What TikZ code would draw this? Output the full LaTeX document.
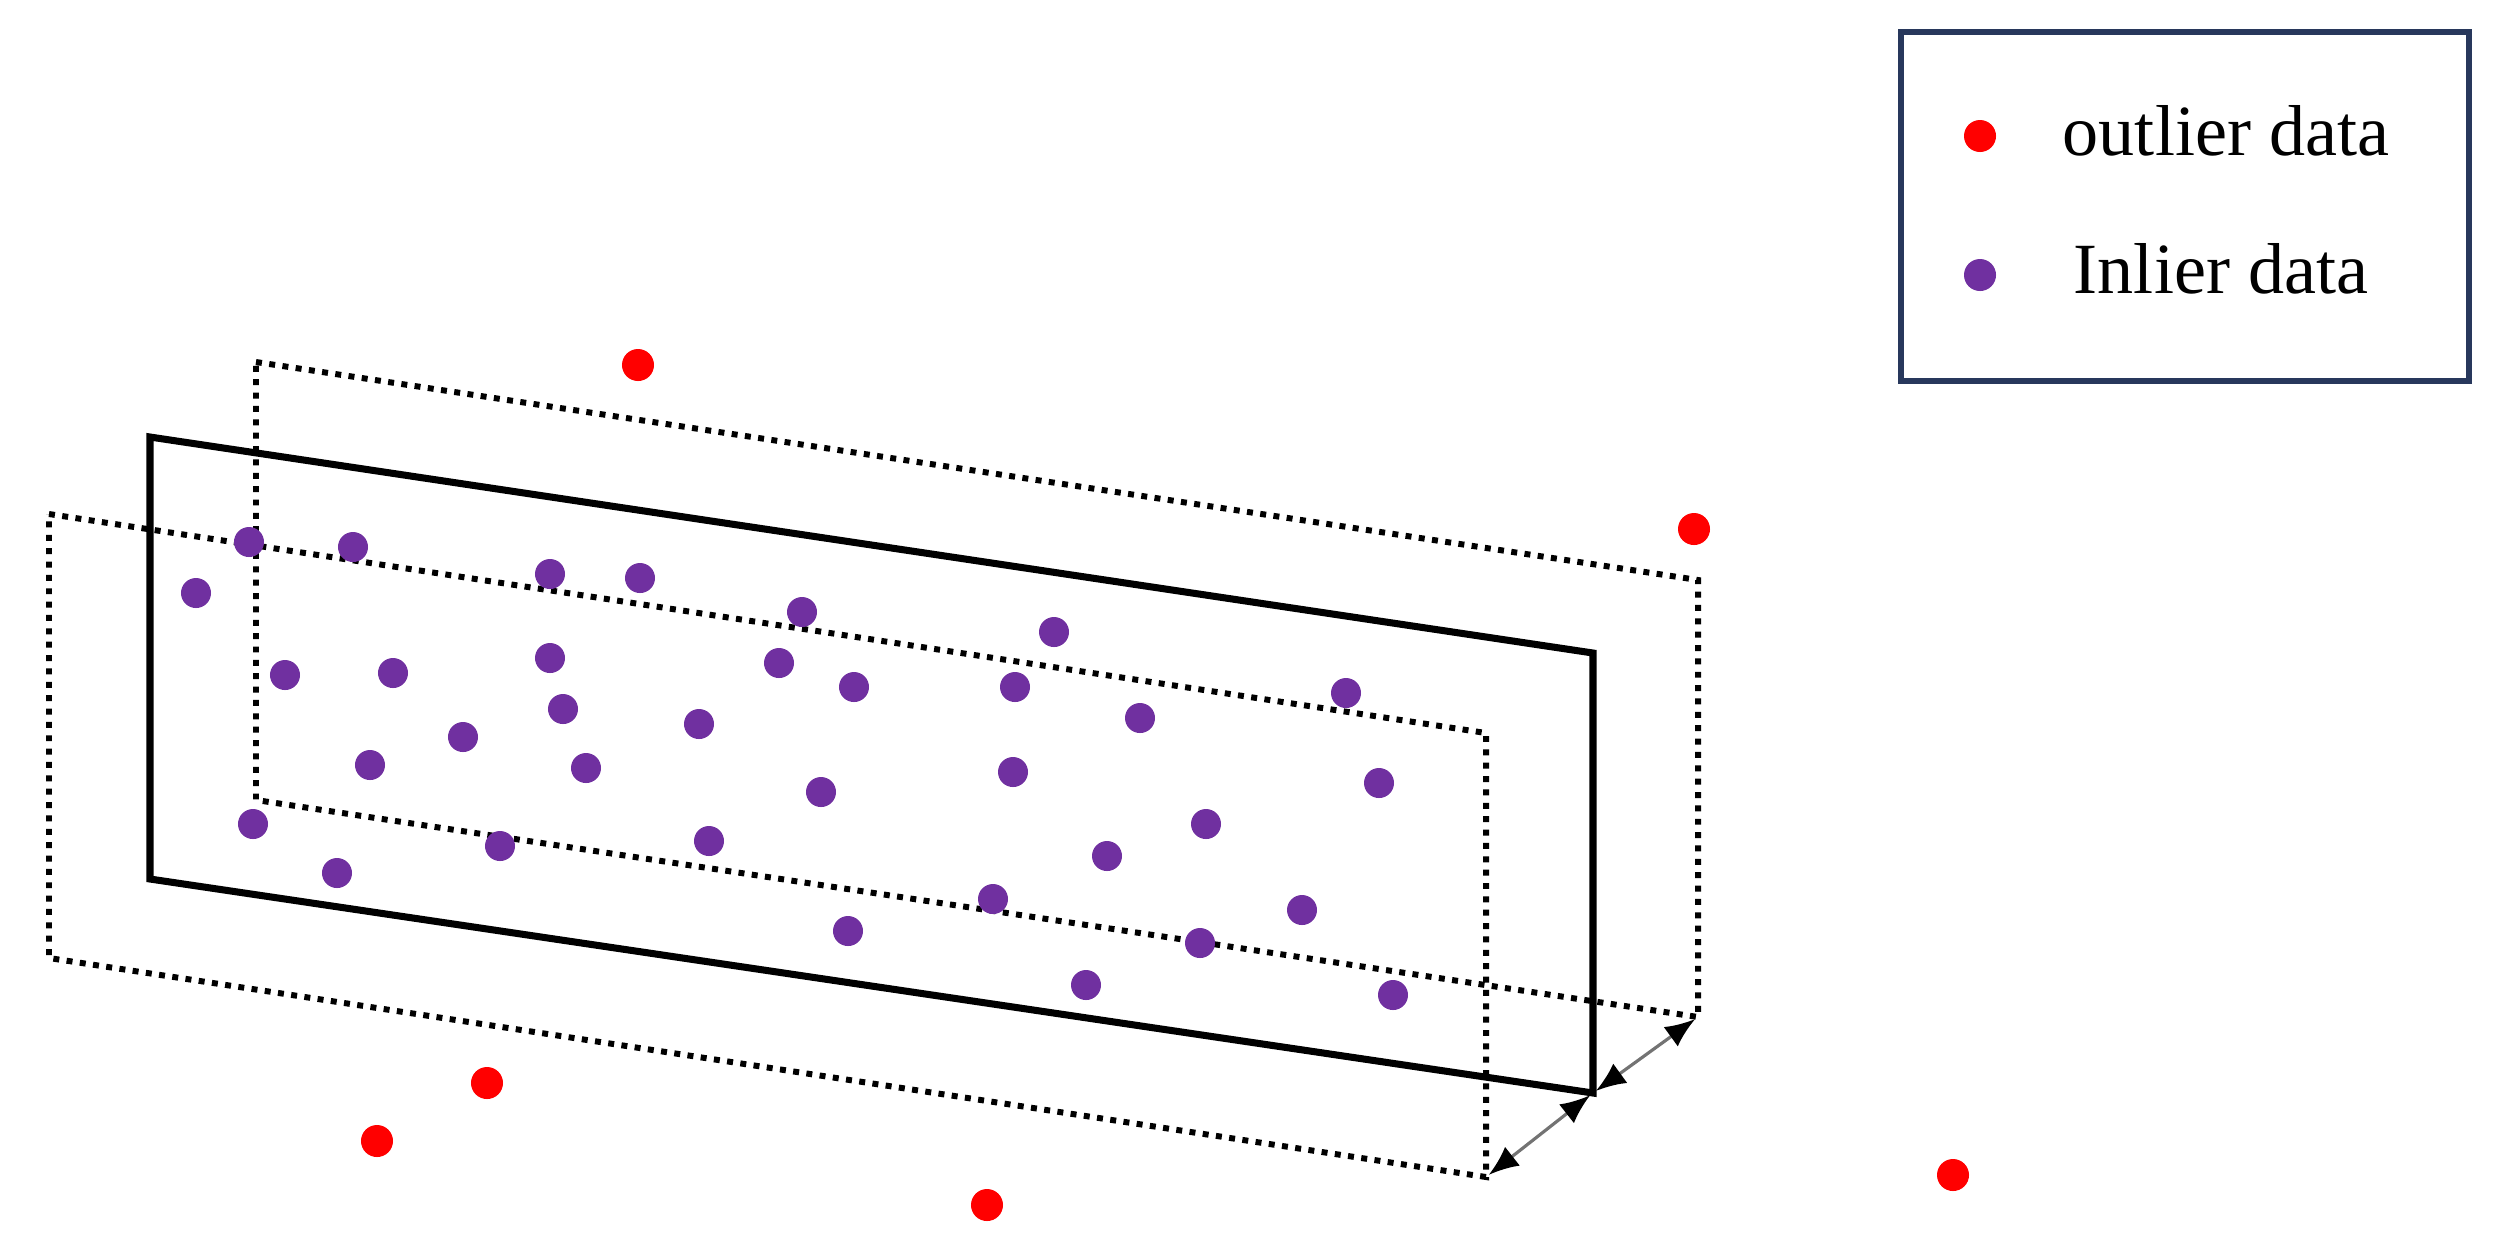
\documentclass[tikz,border=0pt]{standalone}
\usepackage{fontspec}
\setmainfont{Liberation Serif}
\usetikzlibrary{arrows.meta}
\definecolor{inl}{RGB}{112,48,160}
\definecolor{outl}{RGB}{255,0,0}
\definecolor{navy}{RGB}{40,56,92}
\begin{document}
\begin{tikzpicture}[x=0.01cm,y=-0.01cm,
  plane/.style={line width=2pt, line join=miter},
  dotplane/.style={line width=1.7pt, dash pattern=on 1.7pt off 2.1pt},
  inlier/.style={circle, fill=inl, minimum size=0.3cm, inner sep=0pt},
  outlier/.style={circle, fill=outl, minimum size=0.32cm, inner sep=0pt},
  legendbox/.style={draw=navy, line width=1.7pt, fill=white, inner sep=0pt},
  lbl/.style={anchor=base, inner sep=0pt, font=\fontsize{20.5}{24}\selectfont},
  dim/.style={draw=black!55, line width=0.9pt, {Latex[length=0.3cm,width=0.24cm,color=black]}-{Latex[length=0.3cm,width=0.24cm,color=black]}, shorten <=1pt, shorten >=1pt}
]
\useasboundingbox (0,0) rectangle (2496,1244);

% plane corners
\coordinate (btl) at (256,362);  \coordinate (btr) at (1698,580);
\coordinate (bbr) at (1698,1017); \coordinate (bbl) at (256,800);
\coordinate (ftl) at (49,514);   \coordinate (ftr) at (1486,733);
\coordinate (fbr) at (1486,1177); \coordinate (fbl) at (49,958);
\coordinate (stl) at (150,437);  \coordinate (str) at (1593,653);
\coordinate (sbr) at (1593,1093); \coordinate (sbl) at (150,879);

% dotted boundary planes
\draw[dotplane] (btl) -- (btr) -- (bbr) -- (bbl) -- cycle;
\draw[dotplane] (ftl) -- (ftr) -- (fbr) -- (fbl) -- cycle;
% solid model plane
\draw[plane] (stl) -- (str) -- (sbr) -- (sbl) -- cycle;

% distance arrows
\draw[dim] (fbr) -- (sbr);
\draw[dim] (sbr) -- (bbr);

% inlier data
\foreach \n/\p in {1/{196,593},2/{249,542},3/{353,547},4/{550,574},5/{640,578},
  6/{802,612},7/{1054,632},8/{285,675},9/{393,673},10/{550,658},11/{779,663},
  12/{854,687},13/{1015,687},14/{1140,718},15/{1346,693},16/{563,709},
  17/{699,724},18/{463,737},19/{370,765},20/{586,768},21/{821,792},
  22/{1013,772},23/{1379,783},24/{253,824},25/{337,873},26/{500,846},
  27/{709,841},28/{1107,856},29/{1206,824},30/{993,899},31/{848,931},
  32/{1302,910},33/{1200,943},34/{1086,985},35/{1393,995}}
  \node[inlier] (in\n) at (\p) {};

% outlier data
\foreach \n/\p in {1/{638,365},2/{1694,529},3/{487,1083},4/{377,1141},
  5/{987,1205},6/{1953,1175}}
  \node[outlier] (out\n) at (\p) {};

% legend
\node[legendbox, minimum width=5.68cm, minimum height=3.49cm] (legend) at (2185,206.5) {};
\node[outlier] (lgout) at (1980,136) {};
\node[inlier, minimum size=0.32cm] (lgin) at (1980,275) {};
\node[lbl] (lgouttext) at (2226,155) {outlier data};
\node[lbl] (lgintext) at (2221,293) {Inlier data};
\end{tikzpicture}
\end{document}
